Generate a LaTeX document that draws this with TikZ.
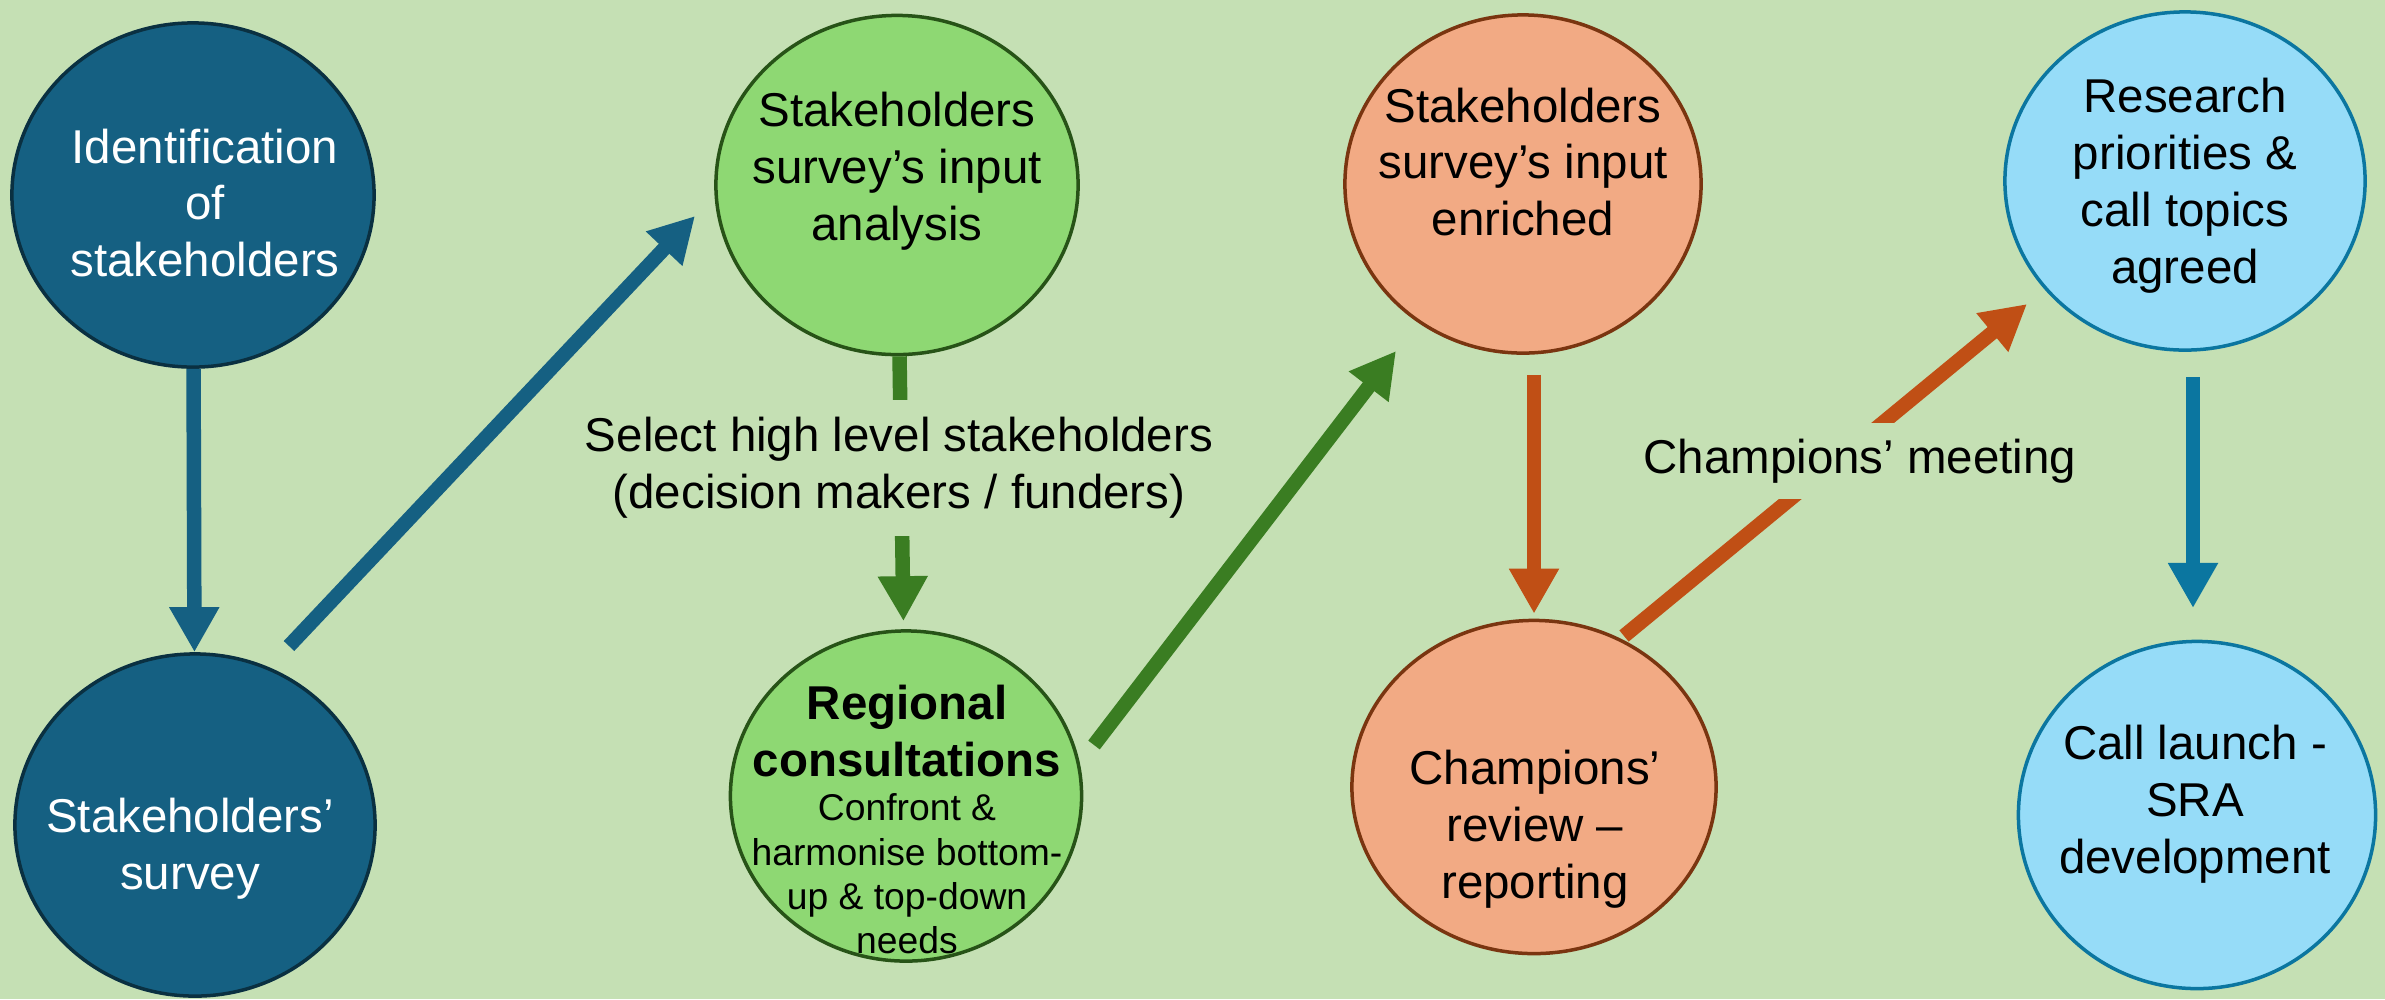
\documentclass[tikz,border=0pt]{standalone}
\usepackage{fontspec}
\setmainfont{Liberation Sans}
\usetikzlibrary{arrows.meta,shapes.geometric,calc}
\definecolor{bgc}{HTML}{C5E0B4}
\definecolor{dbfill}{HTML}{156082}
\definecolor{dbline}{HTML}{0A3041}
\definecolor{gfill}{HTML}{8ED873}
\definecolor{gline}{HTML}{275317}
\definecolor{garrow}{HTML}{3A7D22}
\definecolor{ofill}{HTML}{F2AA84}
\definecolor{oline}{HTML}{7A3510}
\definecolor{oarrow}{HTML}{C04F15}
\definecolor{bfill}{HTML}{96DCF8}
\definecolor{bline}{HTML}{0B76A0}
\begin{document}
\begin{tikzpicture}[x=0.01cm,y=-0.01cm,
  circ/.style={ellipse, draw, line width=0.035cm, inner sep=0pt},
  txt/.style={align=center, font=\fontsize{13.5}{16.2}\selectfont, inner sep=0pt},
  smalltxt/.style={align=center, font=\fontsize{10.6}{12.6}\selectfont, inner sep=0pt},
  conn/.style={line width=0.145cm, -{Triangle[length=0.45cm,width=0.47cm]}},
  lbl/.style={fill=bgc, align=center, font=\fontsize{13.5}{16.2}\selectfont, inner xsep=2pt}
]
\fill[bgc] (0,0) rectangle (2385,999);
\useasboundingbox (0,0) rectangle (2385,999);

% nodes
\node[circ, fill=dbfill, draw=dbline, minimum width=3.62cm, minimum height=3.44cm] (n1) at (193,195) {};
\node[circ, fill=dbfill, draw=dbline, minimum width=3.60cm, minimum height=3.42cm] (n2) at (195,825) {};
\node[circ, fill=gfill, draw=gline, minimum width=3.62cm, minimum height=3.39cm] (n3) at (897,185) {};
\node[circ, fill=gfill, draw=gline, minimum width=3.51cm, minimum height=3.30cm] (n4) at (906,796) {};
\node[circ, fill=ofill, draw=oline, minimum width=3.56cm, minimum height=3.38cm] (n5) at (1523,184) {};
\node[circ, fill=ofill, draw=oline, minimum width=3.64cm, minimum height=3.33cm] (n6) at (1534,787) {};
\node[circ, fill=bfill, draw=bline, minimum width=3.60cm, minimum height=3.38cm] (n7) at (2185,181) {};
\node[circ, fill=bfill, draw=bline, minimum width=3.57cm, minimum height=3.47cm] (n8) at (2197,815) {};

% texts
\node[txt, text=white] (t1) at (205,203) {Identification\\of\\stakeholders};
\node[txt, text=white] (t2) at (190,849) {Stakeholders’\\survey};
\node[txt] (t3) at (897,171) {Stakeholders\\survey’s input\\analysis};
\node[txt, font=\fontsize{13.5}{16.2}\selectfont\bfseries] (t4a) at (907,731) {Regional\\consultations};
\node[smalltxt] (t4b) at (907,874) {Confront \&\\harmonise bottom-\\up \& top-down\\needs};
\node[txt] (t5) at (1523,162) {Stakeholders\\survey’s input\\enriched};
\node[txt] (t6) at (1535,829) {Champions’\\review –\\reporting};
\node[txt] (t7) at (2185,186) {Research\\priorities \&\\call topics\\agreed};
\node[txt] (t8) at (2195,804) {Call launch -\\SRA\\development};

% free ends
\coordinate (a2s) at (289,646);
\coordinate (a2e) at (695,216);
\coordinate (a4s) at (1094,745);
\coordinate (a4e) at (1396,351);
\coordinate (a6s) at (1624,636);
\coordinate (a6e) at (2027,304);
\coordinate (a7s) at (2193,377);
\coordinate (a7e) at (2193,608);

% connectors
\draw[conn, dbfill] (n1) -- (n2);
\draw[conn, dbfill] (a2s) -- (a2e);
\draw[conn, garrow, shorten >=0.08cm] (n3) -- (n4);
\draw[conn, garrow] (a4s) -- (a4e);
\draw[conn, oarrow, shorten <=0.2cm, shorten >=0.05cm] (n5.south -| n6) -- (n6);
\draw[conn, oarrow] (a6s) -- (a6e);
\draw[conn, bline] (a7s) -- (a7e);

% labels
\node[lbl, inner ysep=5pt] (l1) at (899,468) {Select high level stakeholders\\(decision makers / funders)};
\node[lbl, inner ysep=4.5pt] (l2) at (1860,461) {Champions’ meeting};
\end{tikzpicture}
\end{document}
